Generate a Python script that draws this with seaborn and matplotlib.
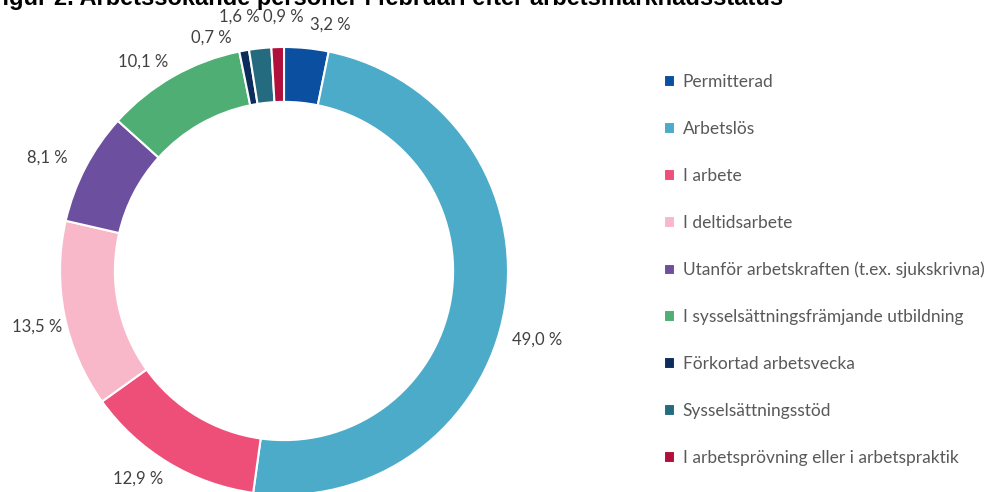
import seaborn as sns
import matplotlib.pyplot as plt

categories = [
    "Permitterad",
    "Arbetslös",
    "I arbete",
    "I deltidsarbete",
    "Utanför arbetskraften (t.ex. sjukskrivna)",
    "I sysselsättningsfrämjande utbildning",
    "Förkortad arbetsvecka",
    "Sysselsättningsstöd",
    "I arbetsprövning eller i arbetspraktik",
]
shares = [3.2, 49.0, 12.9, 13.5, 8.1, 10.1, 0.7, 1.6, 0.9]
labels = ["3,2 %", "49,0 %", "12,9 %", "13,5 %", "8,1 %", "10,1 %", "0,7 %", "1,6 %", "0,9 %"]
colors = ["#0a4fa0", "#4babc8", "#ee4f79", "#f8b8ca", "#6d4fa0",
          "#4eae74", "#0c2d5c", "#256b80", "#b0103b"]

title = "Figur 2. Arbetssökande personer i februari efter arbetsmarknadsstatus"

sns.set_theme(style="white")
plt.rcParams["font.family"] = ["Lato", "DejaVu Sans"]

fig = plt.figure(figsize=(9.92, 4.92), dpi=100)
ax = fig.add_axes([0.0605, -0.0061, 0.4516, 0.9106])

wedges, _ = ax.pie(
    shares,
    colors=sns.color_palette(colors),
    startangle=90,
    counterclock=False,
    radius=1,
    wedgeprops=dict(width=0.245, edgecolor="white", linewidth=1.5),
)
ax.set_xlim(-1, 1)
ax.set_ylim(-1, 1)
ax.set_aspect("equal")
ax.axis("off")

# label placement as Excel's "best fit" put them (axes data units, radius 1)
label_pos = {
    "3,2 %": (0.205, 1.10),
    "49,0 %": (1.129, -0.308),
    "12,9 %": (-0.652, -0.929),
    "13,5 %": (-1.103, -0.25),
    "8,1 %": (-1.058, 0.504),
    "10,1 %": (-0.629, 0.933),
    "0,7 %": (-0.326, 1.04),
    "1,6 %": (-0.20, 1.134),
    "0,9 %": (-0.004, 1.134),
}
for lab in labels:
    x, y = label_pos[lab]
    ax.text(x, y, lab, ha="center", va="center", fontsize=12,
            color="#404040", clip_on=False)

fig.legend(
    wedges, categories,
    loc="upper left", bbox_to_anchor=(0.669, 0.849),
    frameon=False, fontsize=12.5, labelcolor="#595959",
    handlelength=0.65, handleheight=0.65, handletextpad=0.45,
    labelspacing=1.78, borderpad=0, borderaxespad=0,
)

fig.text(-0.012, 0.990, title, fontsize=17, fontweight="bold",
         family=["Liberation Sans", "DejaVu Sans"], va="baseline",
         color="black")

fig.savefig("out.png", dpi=100)
